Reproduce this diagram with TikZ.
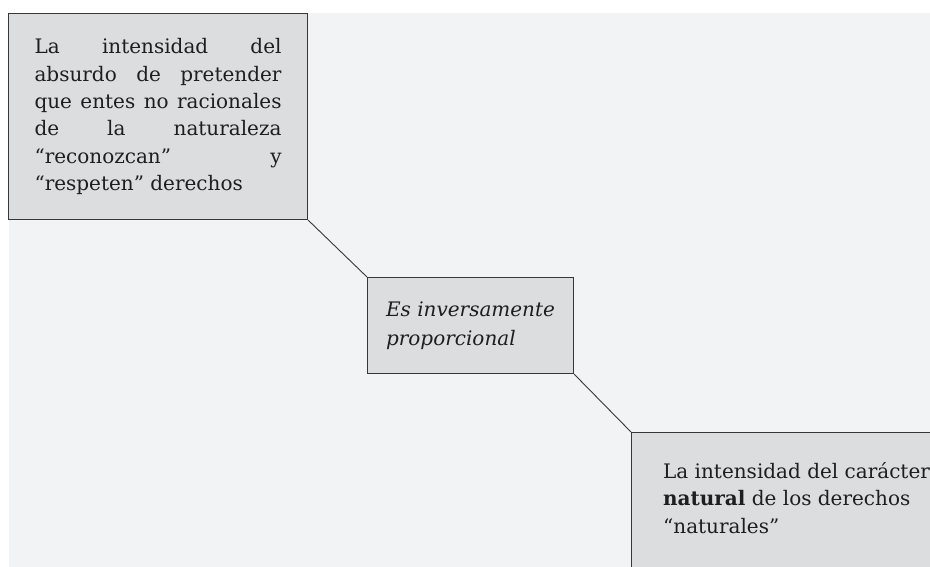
\documentclass[tikz,border=0pt]{standalone}
\usepackage{fontspec}
\setmainfont{DejaVu Serif}
\usetikzlibrary{positioning}

\definecolor{pagegray}{RGB}{242,243,245}
\definecolor{boxgray}{RGB}{220,221,223}
\definecolor{edgegray}{RGB}{55,55,57}
\definecolor{inkgray}{RGB}{30,30,32}

\begin{document}
\begin{tikzpicture}[x=1pt,y=-1pt]
\useasboundingbox (0,0) rectangle (930,567);
\clip (0,0) rectangle (930,567);
\fill [pagegray] (9,13) rectangle (930,567);

\begin{scope}[every node/.style={draw=edgegray, fill=boxgray, line width=1.1pt,
    text=inkgray, inner xsep=26pt, font=\fontsize{20}{27.3}\selectfont}]
    \node [anchor=north west, text width=247pt, align=justify,
        minimum height=206pt] (a) at (8,13)
        {La intensidad del\linebreak absurdo de pretender\linebreak
        que entes no racionales\linebreak de la naturaleza\linebreak
        ``reconozcan'' y\linebreak ``respeten'' derechos};
    \node [anchor=north west, align=left, inner xsep=0pt, minimum width=206pt,
        minimum height=96pt, font=\fontsize{20}{28.5}\selectfont\itshape] (b) at (367,277)
        {Es inversamente\\ proporcional};
    \node [anchor=north west, align=left, minimum width=330pt,
        inner ysep=30pt] (c) at (631,432)
        {La intensidad del carácter\\ \textbf{natural} de los derechos\\
        ``naturales''\rule[-20pt]{0pt}{0pt}};

    \path [edgegray, line width=0.9pt] (a.south east) edge (b.north west);
    \path [edgegray, line width=0.9pt] (b.south east) edge (c.north west);
\end{scope}

\end{tikzpicture}
\end{document}
